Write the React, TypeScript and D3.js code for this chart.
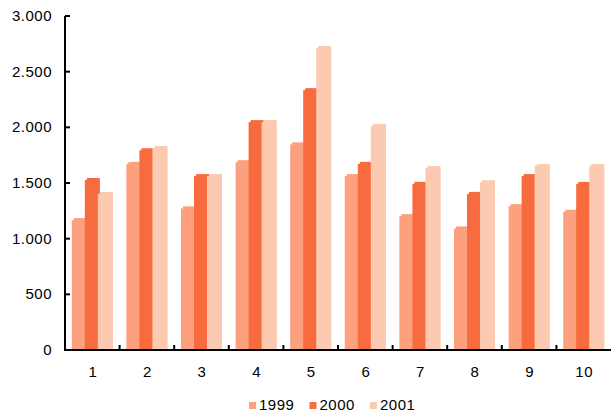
import React from "react";
import * as d3 from "d3";

const categories = ["1", "2", "3", "4", "5", "6", "7", "8", "9", "10"];
const seriesNames = ["1999", "2000", "2001"];
const values1999 = [1185, 1690, 1290, 1705, 1865, 1580, 1220, 1110, 1310, 1260];
const values2000 = [1545, 1812, 1580, 2065, 2352, 1690, 1510, 1420, 1580, 1510];
const values2001 = [1420, 1832, 1580, 2065, 2730, 2030, 1652, 1525, 1670, 1670];
const yTicks = [0, 500, 1000, 1500, 2000, 2500, 3000];
const colors = ["#FCA07E", "#F76B3F", "#FBCAB0"];

const W = 611;
const H = 412;
const left = 65;
const right = 611;
const top = 16;
const bottom = 350;

const fmt = (v: number) => (v === 0 ? "0" : d3.format(",")(v).replace(/,/g, "."));

export default function App() {
  const series = [values1999, values2000, values2001];
  const x = d3.scaleBand<string>().domain(categories).range([left, right]).padding(0);
  const y = d3.scaleLinear().domain([0, 3000]).range([bottom, top]);
  const step = 13;
  const bw = 15;
  const groupW = step * 2 + bw;
  const font = "'Liberation Sans', Arial, sans-serif";

  return (
    <svg
      width={W}
      height={H}
      style={{ position: "absolute", left: 0, top: 0, background: "#fff" }}
    >
      {categories.map((c, ci) => {
        const cx = (x(c) as number) + x.bandwidth() / 2;
        const start = cx - groupW / 2;
        return (
          <g key={c}>
            {series.map((s, si) => {
              const bx = start + si * step;
              const by = y(s[ci]);
              return (
                <g key={si}>
                  <rect x={bx} y={by + 2} width={bw} height={bottom - by - 2} fill={colors[si]} />
                  <rect x={bx + 2} y={by} width={bw - 2} height={bottom - by} fill={colors[si]} />
                </g>
              );
            })}
          </g>
        );
      })}
      {/* y axis */}
      <line x1={left} x2={left} y1={top} y2={bottom + 1} stroke="#000" strokeWidth={2} />
      {yTicks.map((t) => (
        <g key={t}>
          <line x1={left} x2={left + 5} y1={y(t)} y2={y(t)} stroke="#000" strokeWidth={2} />
          <text
            x={52}
            y={y(t) + 5}
            textAnchor="end"
            fontFamily={font}
            fontSize={15}
            letterSpacing={0.5}
            fill="#000"
          >
            {fmt(t)}
          </text>
        </g>
      ))}
      {/* x axis */}
      <line x1={left - 1} x2={right} y1={bottom} y2={bottom} stroke="#000" strokeWidth={2} />
      {categories.slice(1).map((c) => (
        <line
          key={c}
          x1={x(c) as number}
          x2={x(c) as number}
          y1={bottom}
          y2={bottom - 5}
          stroke="#000"
          strokeWidth={2}
        />
      ))}
      {categories.map((c) => (
        <text
          key={c}
          x={(x(c) as number) + x.bandwidth() / 2 + 0.5}
          y={377}
          textAnchor="middle"
          fontFamily={font}
          fontSize={15}
          letterSpacing={0.5}
          fill="#000"
        >
          {c}
        </text>
      ))}
      {/* legend */}
      {seriesNames.map((n, i) => {
        const lx = 249 + i * 60.5;
        return (
          <g key={n}>
            <rect x={lx} y={402} width={7} height={7} fill={colors[i]} />
            <text x={lx + 10} y={410} fontFamily={font} fontSize={15} letterSpacing={0.5} fill="#000">
              {n}
            </text>
          </g>
        );
      })}
    </svg>
  );
}
